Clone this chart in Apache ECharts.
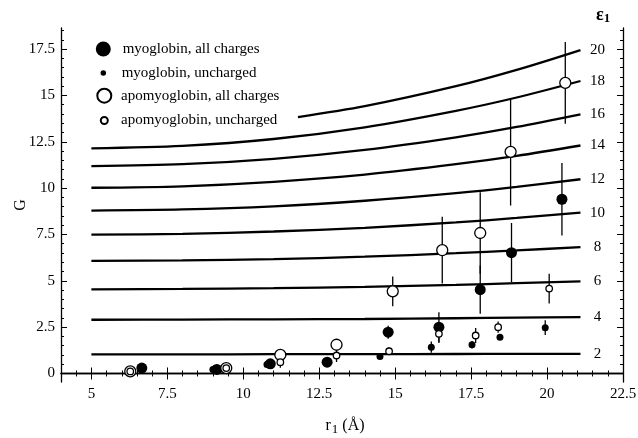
<!DOCTYPE html>
<html>
<head>
<meta charset="utf-8">
<script src="https://cdn.jsdelivr.net/npm/echarts@6/dist/echarts.min.js"></script>
<style>
  html, body { margin: 0; padding: 0; background: #fff; }
  #chart { width: 638px; height: 438px; }
</style>
</head>
<body>
<div id="chart"></div>
<script>
// Model curves G(r1) for fixed protein dielectric constant eps1
const curveR = [5, 8, 11, 14, 17, 19, 21.1];
const eps2G  = [1.03, 1.03, 1.04, 1.04, 1.05, 1.06, 1.06];
const eps4G  = [2.90, 2.91, 2.92, 2.94, 2.98, 3.01, 3.04];
const eps6G  = [4.54, 4.56, 4.60, 4.67, 4.78, 4.87, 4.97];
const eps8G  = [6.07, 6.10, 6.17, 6.30, 6.49, 6.64, 6.82];
const eps10G = [7.49, 7.53, 7.66, 7.86, 8.15, 8.39, 8.68];
const eps12G = [8.79, 8.85, 9.02, 9.32, 9.73, 10.07, 10.48];
const eps14G = [10.02, 10.10, 10.34, 10.73, 11.29, 11.74, 12.30];
const eps16G = [11.19, 11.29, 11.58, 12.06, 12.74, 13.30, 13.98];
const eps18G = [12.15, 12.28, 12.65, 13.28, 14.17, 14.89, 15.78];
const eps20R = [11.8, 14, 17, 19, 21.1];
const eps20G = [13.83, 14.42, 15.50, 16.38, 17.45];

// Measured points: radius, G and error half-width
const myoAllR   = [6.66, 9.13, 10.89, 12.76, 14.77, 16.44, 17.80, 18.83, 20.49];
const myoAllG   = [0.29, 0.22, 0.52, 0.61, 2.23, 2.50, 4.52, 6.52, 9.40];
const myoAllErr = [0, 0, 0, 0, 0.35, 0.80, 1.30, 1.60, 1.95];

const myoUnR   = [6.66, 9.00, 10.78, 12.76, 14.50, 16.19, 17.53, 18.45, 19.94];
const myoUnG   = [0.29, 0.22, 0.48, 0.61, 0.92, 1.42, 1.55, 1.96, 2.47];
const myoUnErr = [0, 0, 0, 0, 0.15, 0.30, 0.20, 0.10, 0.40];

const apoAllR   = [6.28, 9.44, 11.22, 13.07, 14.92, 16.55, 17.80, 18.80, 20.60];
const apoAllG   = [0.11, 0.29, 1.00, 1.55, 4.43, 6.65, 7.58, 11.96, 15.68];
const apoAllErr = [0, 0, 0.20, 0.30, 0.80, 1.80, 2.20, 2.90, 2.20];

const apoUnR   = [6.28, 9.44, 11.22, 13.07, 14.80, 16.44, 17.65, 18.39, 20.07];
const apoUnG   = [0.11, 0.29, 0.61, 0.97, 1.20, 2.14, 2.05, 2.50, 4.58];
const apoUnErr = [0, 0, 0.30, 0.35, 0.20, 0.50, 0.40, 0.30, 0.80];

// Axis tick labels
const xTicks = [5, 7.5, 10, 12.5, 15, 17.5, 20, 22.5];
const yTicks = [0, 2.5, 5, 7.5, 10, 12.5, 15, 17.5];

const serif = 'Liberation Serif, Times New Roman, serif';
const black = '#000';

const curves = [
  { label: '2',  r: curveR, g: eps2G },
  { label: '4',  r: curveR, g: eps4G },
  { label: '6',  r: curveR, g: eps6G },
  { label: '8',  r: curveR, g: eps8G },
  { label: '10', r: curveR, g: eps10G },
  { label: '12', r: curveR, g: eps12G },
  { label: '14', r: curveR, g: eps14G },
  { label: '16', r: curveR, g: eps16G },
  { label: '18', r: curveR, g: eps18G },
  { label: '20', r: eps20R, g: eps20G }
];

const zip = (a, b) => a.map((v, i) => [v, b[i]]);
const minorTicks = (lo, hi, step) => {
  const out = [];
  for (let v = lo; v <= hi + 1e-9; v += step) out.push(+v.toFixed(2));
  return out;
};

const curveSeries = curves.map(c => ({
  type: 'line',
  name: 'eps' + c.label,
  data: zip(c.r, c.g),
  smooth: 0.3,
  showSymbol: false,
  silent: true,
  lineStyle: { color: black, width: 2.3 },
  endLabel: {
    show: true,
    formatter: c.label,
    color: black,
    fontFamily: serif,
    fontSize: 15,
    distance: 17,
    align: 'center'
  },
  z: 2
}));

function errorBars(name, r, g, e) {
  return {
    type: 'custom',
    name: name,
    silent: true,
    data: r.map((x, i) => [x, g[i], e[i]]).filter(d => d[2] > 0),
    encode: { x: 0, y: 1 },
    renderItem: function (params, api) {
      const x = api.value(0), y = api.value(1), d = api.value(2);
      const p1 = api.coord([x, y - d]);
      const p2 = api.coord([x, y + d]);
      return {
        type: 'line',
        shape: { x1: p1[0], y1: p1[1], x2: p2[0], y2: p2[1] },
        style: { stroke: black, lineWidth: 1.3 }
      };
    },
    z: 3
  };
}

const filled = { color: black, opacity: 1 };
const open = { color: '#fff', borderColor: black, borderWidth: 1.3, opacity: 1 };

const pointSeries = [
  { type: 'scatter', name: 'myoglobin, all charges', data: zip(myoAllR, myoAllG), symbolSize: 11, itemStyle: filled, z: 4 },
  { type: 'scatter', name: 'myoglobin, uncharged', data: zip(myoUnR, myoUnG), symbolSize: 7, itemStyle: filled, z: 4 },
  { type: 'scatter', name: 'apomyoglobin, all charges', data: zip(apoAllR, apoAllG), symbolSize: 11, itemStyle: open, z: 5 },
  { type: 'scatter', name: 'apomyoglobin, uncharged', data: zip(apoUnR, apoUnG), symbolSize: 6.5, itemStyle: open, z: 6 }
];

function legendItem(name, centerY, size, textStart) {
  const iconLeft = 103.3 - size / 2;
  return {
    data: [name],
    left: iconLeft,
    top: centerY - 8,
    orient: 'horizontal',
    padding: 0,
    itemGap: 0,
    itemWidth: size,
    itemHeight: size,
    selectedMode: false,
    textStyle: {
      fontFamily: serif,
      fontSize: 15,
      color: black,
      lineHeight: 16,
      padding: [0, 0, 0, textStart - (iconLeft + size + 5)]
    }
  };
}

const axisLineStyle = { show: true, lineStyle: { color: black, width: 1.3 } };
const X_MIN = 4, X_MAX = 22.5, Y_MIN = -0.46, Y_MAX = 18.64;

function xAxis(position, major, withLabels) {
  const ticks = major ? xTicks : minorTicks(4.5, 22, 0.5);
  return {
    type: 'value', position: position, min: X_MIN, max: X_MAX,
    axisLine: major ? axisLineStyle : { show: false },
    axisTick: { show: true, inside: true, length: major ? 6 : 3, customValues: ticks, lineStyle: { color: black, width: 1 } },
    axisLabel: withLabels
      ? { show: true, customValues: xTicks, color: black, fontFamily: serif, fontSize: 15, margin: 5 }
      : { show: false },
    splitLine: { show: false },
    name: withLabels ? '{r|r}{s|1}{t| (Å)}' : '',
    nameLocation: 'middle',
    nameGap: 33,
    nameTextStyle: {
      padding: [0, 0, 0, 6],
      rich: {
        r: { fontFamily: serif, fontSize: 16, color: black },
        s: { fontFamily: serif, fontSize: 13, color: black, padding: [8, 0, 0, 1] },
        t: { fontFamily: serif, fontSize: 16, color: black }
      }
    }
  };
}

function yAxis(position, major, withLabels) {
  const ticks = major ? yTicks : minorTicks(0, 18.5, 0.5);
  return {
    type: 'value', position: position, min: Y_MIN, max: Y_MAX,
    axisLine: major ? axisLineStyle : { show: false },
    axisTick: { show: true, inside: true, length: major ? 6 : 3, customValues: ticks, lineStyle: { color: black, width: 1 } },
    axisLabel: withLabels
      ? { show: true, customValues: yTicks, color: black, fontFamily: serif, fontSize: 15, margin: 6 }
      : { show: false },
    splitLine: { show: false },
    name: withLabels ? 'G' : '',
    nameLocation: 'middle',
    nameGap: 32,
    nameRotate: 90,
    nameMoveOverlap: false,
    nameTextStyle: { fontFamily: serif, fontSize: 16, color: black }
  };
}

const chart = echarts.init(document.getElementById('chart'), null, { renderer: 'canvas' });
chart.setOption({
  animation: false,
  backgroundColor: '#fff',
  grid: { left: 61, right: 15, top: 28, bottom: 56, containLabel: false, outerBoundsMode: 'none' },
  title: {
    text: '{e|ε}{n|1}',
    left: 596,
    top: 5,
    padding: 0,
    textStyle: {
      rich: {
        e: { fontFamily: serif, fontSize: 18, color: black },
        n: { fontFamily: serif, fontSize: 13, fontWeight: 'bold', color: black, padding: [7, 0, 0, 0] }
      }
    }
  },
  legend: [
    legendItem('myoglobin, all charges', 49, 15, 122.7),
    legendItem('myoglobin, uncharged', 73, 5.5, 121.7),
    legendItem('apomyoglobin, all charges', 95.7, 14, 120),
    legendItem('apomyoglobin, uncharged', 120.5, 7, 120)
  ],
  xAxis: [
    xAxis('bottom', true, true),
    xAxis('bottom', false, false),
    xAxis('top', true, false),
    xAxis('top', false, false)
  ],
  yAxis: [
    yAxis('left', true, true),
    yAxis('left', false, false),
    yAxis('right', true, false),
    yAxis('right', false, false)
  ],
  series: [].concat(
    curveSeries,
    [
      errorBars('myo-all-err', myoAllR, myoAllG, myoAllErr),
      errorBars('myo-un-err', myoUnR, myoUnG, myoUnErr),
      errorBars('apo-all-err', apoAllR, apoAllG, apoAllErr),
      errorBars('apo-un-err', apoUnR, apoUnG, apoUnErr)
    ],
    pointSeries
  )
});
</script>
</body>
</html>
